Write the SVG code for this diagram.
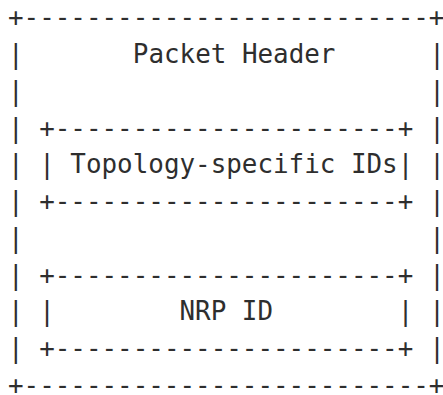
<svg xmlns="http://www.w3.org/2000/svg" width="443" height="395" viewBox="0 0 443 395">
<style>
text{font-family:"DejaVu Sans Mono","Liberation Mono",monospace;font-size:25.9px;fill:#2e2e2e;white-space:pre}
</style>
<rect width="443" height="395" fill="#ffffff"/>
<g id="packet-header" xml:space="preserve">
<text x="8" y="26.25">+--------------------------+</text>
<text x="132.8" y="63">Packet Header</text>
<text x="8" y="393.75">+--------------------------+</text>
<g id="outer-left">
<text x="8" y="63">|</text>
<text x="8" y="99.75">|</text>
<text x="8" y="136.5">|</text>
<text x="8" y="173.25">|</text>
<text x="8" y="210">|</text>
<text x="8" y="246.75">|</text>
<text x="8" y="283.5">|</text>
<text x="8" y="320.25">|</text>
<text x="8" y="357">|</text>
</g>
<g id="outer-right">
<text x="429.2" y="63">|</text>
<text x="429.2" y="99.75">|</text>
<text x="429.2" y="136.5">|</text>
<text x="429.2" y="173.25">|</text>
<text x="429.2" y="210">|</text>
<text x="429.2" y="246.75">|</text>
<text x="429.2" y="283.5">|</text>
<text x="429.2" y="320.25">|</text>
<text x="429.2" y="357">|</text>
</g>
</g>
<g id="topology-ids" xml:space="preserve">
<text x="39.2" y="136.5">+----------------------+</text>
<text x="39.2" y="173.25">| Topology-specific IDs|</text>
<text x="39.2" y="210">+----------------------+</text>
</g>
<g id="nrp-id" xml:space="preserve">
<text x="39.2" y="283.5">+----------------------+</text>
<text x="39.2" y="320.25">|        NRP ID        |</text>
<text x="39.2" y="357">+----------------------+</text>
</g>
<g id="connectors"/>
</svg>
